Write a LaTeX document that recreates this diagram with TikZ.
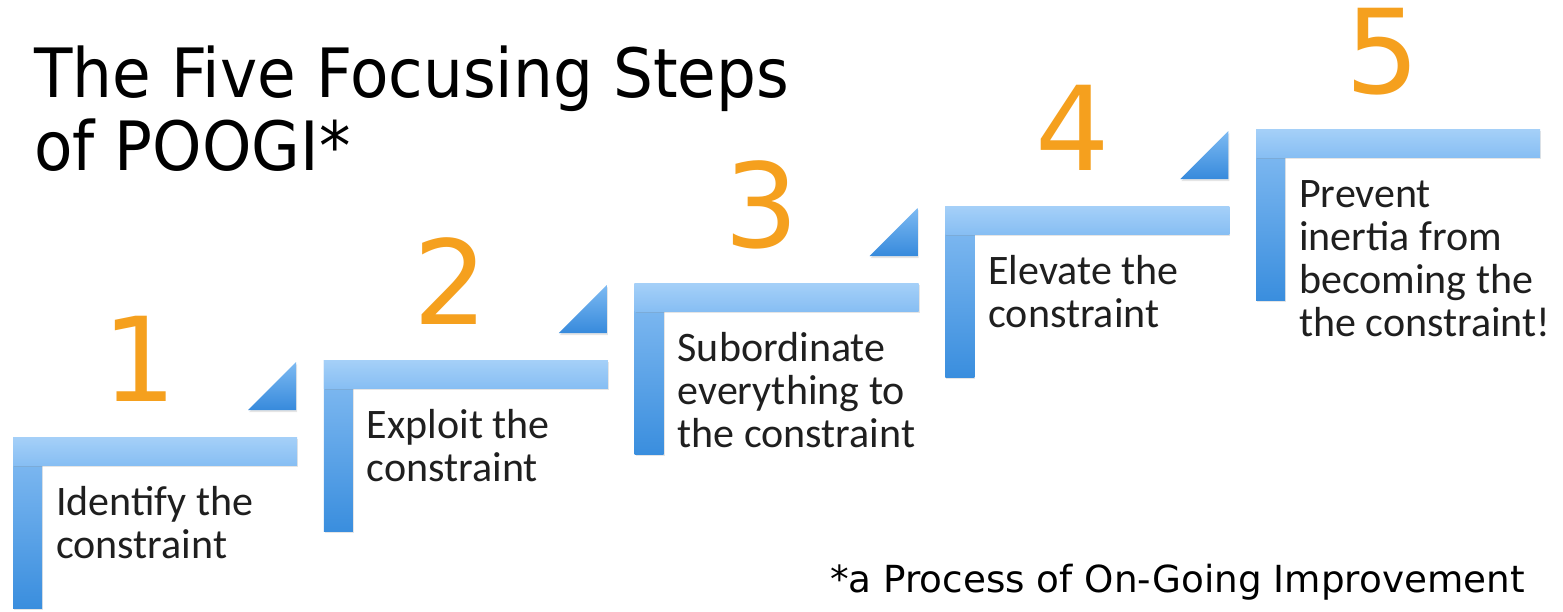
\documentclass[tikz,border=0pt]{standalone}
\usepackage{fontspec}
\setmainfont{Carlito}
\newfontfamily\titlefont[FakeStretch=0.925]{DejaVu Sans}
\newfontfamily\notefont{DejaVu Sans}
\newfontfamily\digitfont{DejaVu Sans}
\usetikzlibrary{shadows}
\definecolor{numorange}{RGB}{245,160,30}
\definecolor{barlight}{RGB}{165,208,248}
\definecolor{barmid}{RGB}{135,190,243}
\definecolor{bardark}{RGB}{58,142,222}
\definecolor{tritop}{RGB}{125,186,242}
\definecolor{tribot}{RGB}{55,138,220}
\begin{document}
\begin{tikzpicture}[x=1pt,y=-1pt,
  hbar/.style={top color=barlight,bottom color=barmid,
    drop shadow={shadow xshift=1pt,shadow yshift=-2pt,opacity=0.2}},
  vbar/.style={top color=barmid,bottom color=bardark,
    drop shadow={shadow xshift=1pt,shadow yshift=-2pt,opacity=0.2}},
  tri/.style={top color=tritop,bottom color=tribot,
    drop shadow={shadow xshift=1pt,shadow yshift=-2pt,opacity=0.2}},
  steptext/.style={anchor=base west,inner sep=0pt,align=left,
    font=\fontsize{42}{43}\selectfont,text=black!88},
  numtext/.style={anchor=base,inner sep=0pt,
    font=\digitfont\fontsize{117}{117}\selectfont,text=numorange}]
\fill[white] (0,0) rectangle (1563,611);
\useasboundingbox (0,0) rectangle (1563,611);

% multi-line nodes: base anchor = baseline of the last line
\node[anchor=base west,inner sep=0pt,align=left,
  font=\titlefont\fontsize{68}{73}\selectfont] (title) at (34,170)
  {The Five Focusing Steps\\of POOGI*};

\foreach \i/\n/\t in {1/2/{Identify the\\constraint},
                   2/2/{Exploit the\\constraint},
                   3/3/{Subordinate\\everything to\\the constraint},
                   4/2/{Elevate the\\constraint},
                   5/4/{Prevent\\inertia from\\becoming the\\the constraint!}}{
  \pgfmathsetmacro{\ox}{13+(\i-1)*310.75}
  \pgfmathsetmacro{\oy}{437-(\i-1)*77}
  \pgfmathsetmacro{\ly}{\oy+78+(\n-1)*43}
  \path[vbar] (\ox,\oy) rectangle (\ox+29,\oy+171);
  \path[hbar] (\ox,\oy) rectangle (\ox+284,\oy+28);
  \ifnum\i<5
    \path[tri] (\ox+235,\oy-27) -- (\ox+283,\oy-75) -- (\ox+283,\oy-27) -- cycle;
  \fi
  \node[numtext] (num\i) at (\ox+127,\oy-36) {\i};
  \node[steptext] (label\i) at (\ox+43,\ly) {\t};
}

\node[anchor=base west,inner sep=0pt,
  font=\notefont\fontsize{37.3}{40}\selectfont] (note) at (830,592)
  {*a Process of On-Going Improvement};
\end{tikzpicture}
\end{document}
